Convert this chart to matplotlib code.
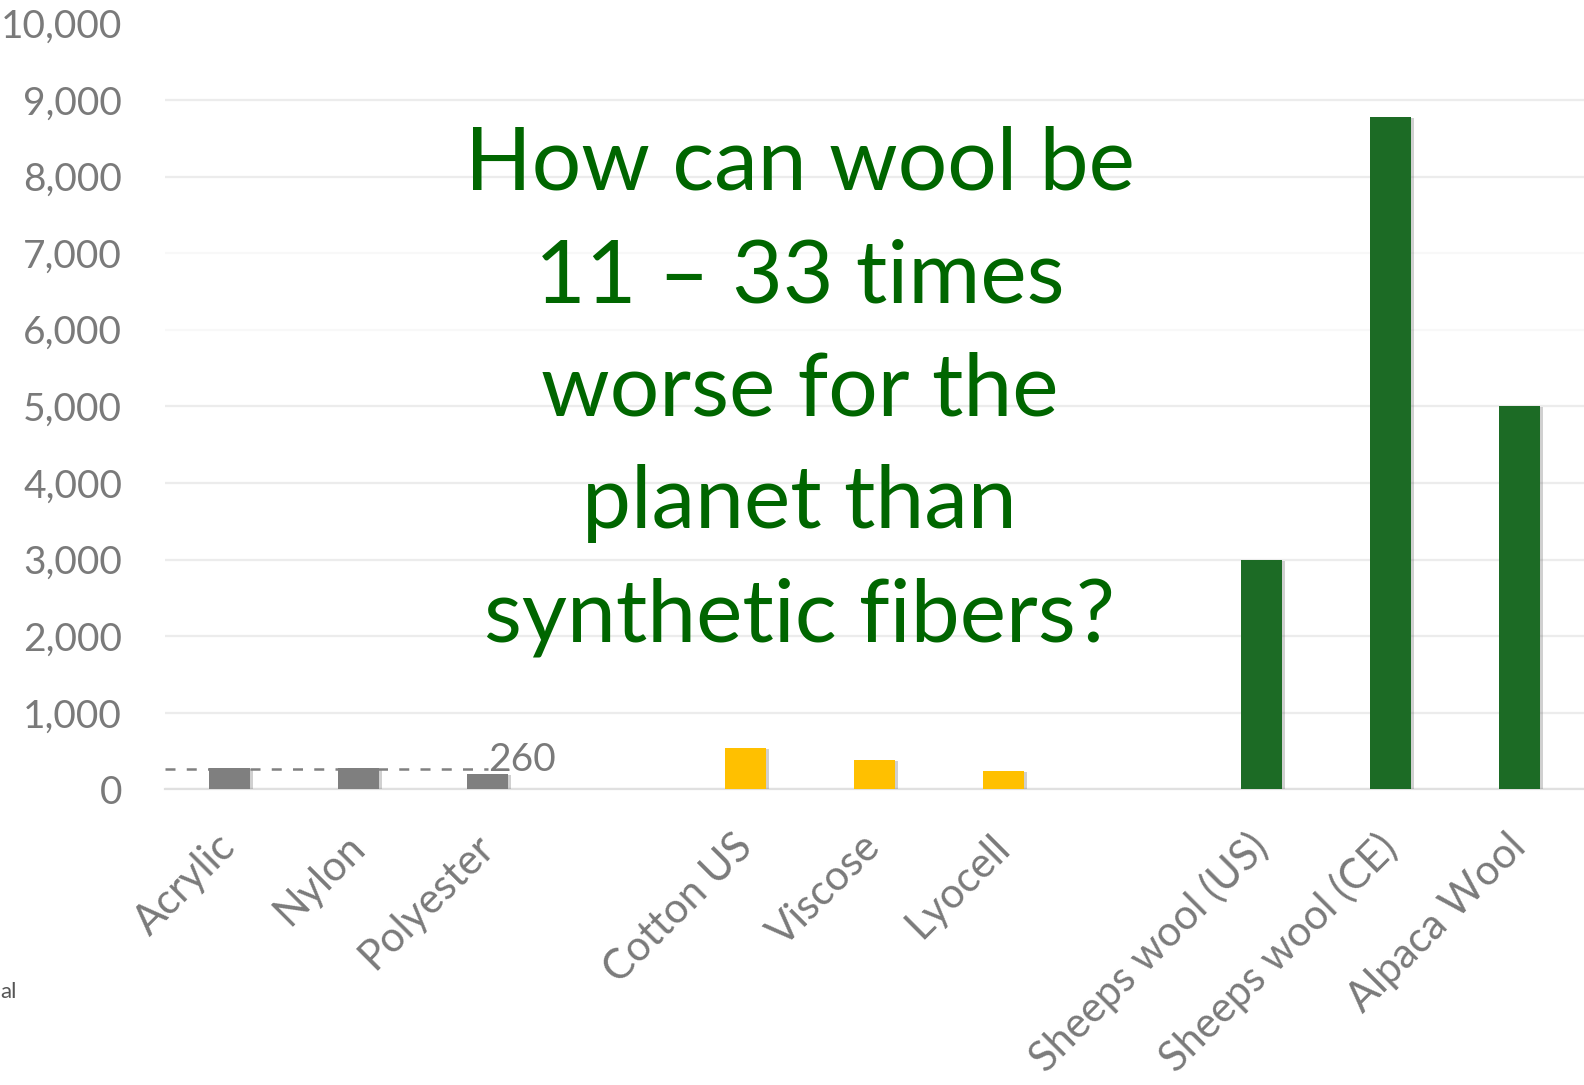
import matplotlib
matplotlib.use("Agg")
import matplotlib.pyplot as plt
import matplotlib.patheffects as pe

# data
fibers = ["Acrylic", "Nylon", "Polyester", "", "Cotton US", "Viscose", "Lyocell", "",
          "Sheeps wool (US)", "Sheeps wool (CE)", "Alpaca Wool"]
values = [282, 282, 200, 0, 535, 382, 239, 0, 3000, 8780, 5000]
colors = ["#7f7f7f", "#7f7f7f", "#7f7f7f", "none", "#ffc000", "#ffc000", "#ffc000", "none",
          "#1c6b25", "#1c6b25", "#1c6b25"]
synthetic_avg = 260
yticks = list(range(0, 10001, 1000))
headline = "How can wool be\n11 \u2013 33 times\nworse for the\nplanet than\nsynthetic fibers?"

plt.rcParams['font.family'] = ['Lato', 'DejaVu Sans']

fig = plt.figure(figsize=(15.84, 10.85), dpi=100)
ax = fig.add_axes([0.1043, 0.2725, 0.8957, 0.706])

x = list(range(len(fibers)))
bars = ax.bar(x, values, width=0.318, color=colors, zorder=3)
for b, v in zip(bars, values):
    if v > 0:
        b.set_path_effects([pe.SimplePatchShadow(offset=(2, -0.7), shadow_rgbFace='#666666', alpha=0.3),
                            pe.Normal()])

ax.plot([-0.5, 2.0], [synthetic_avg, synthetic_avg], color='#808080', lw=1.8,
        dashes=(4, 4.5), zorder=4)
ax.annotate(str(synthetic_avg), xy=(2.0, synthetic_avg), xytext=(0, 7),
            textcoords='offset points', ha='left', va='center',
            fontsize=28, color='#7a7a7a', zorder=5)

tick_gray = '#7a7a7a'
ax.set_xlim(-0.5, 10.5)
ax.set_ylim(0, 10000)
ax.set_yticks(yticks)
ax.set_yticklabels([f"{t:,}" for t in yticks], fontsize=28, color=tick_gray)
ax.tick_params(axis='y', length=0, pad=31)
ax.set_xticks([i for i, f in enumerate(fibers) if f])
ax.set_xticklabels([f for f in fibers if f], rotation=45, ha='right', va='center',
                   rotation_mode='anchor', fontsize=30, color=tick_gray)
ax.tick_params(axis='x', length=0, pad=37)

for s in ['top', 'right', 'left']:
    ax.spines[s].set_visible(False)
ax.spines['bottom'].set_color('#e0e0e0')
ax.spines['bottom'].set_linewidth(1.6)

ax.yaxis.grid(True, color='#ececec', lw=1.6, zorder=0)
ax.set_axisbelow(True)
for i, gl in enumerate(ax.get_ygridlines()):
    if yticks[i] in (6000, 7000):
        gl.set_color('#f8f8f8')
    if yticks[i] == 10000:
        gl.set_visible(False)

ax.text(4.42, 5200, headline, ha='center', va='center', fontsize=63, color='#006600',
        linespacing=1.53, zorder=6)

fig.text(0.0, 0.086, "al", fontsize=16, color='#555555', ha='left', va='center')

fig.savefig("out.png", dpi=100)
